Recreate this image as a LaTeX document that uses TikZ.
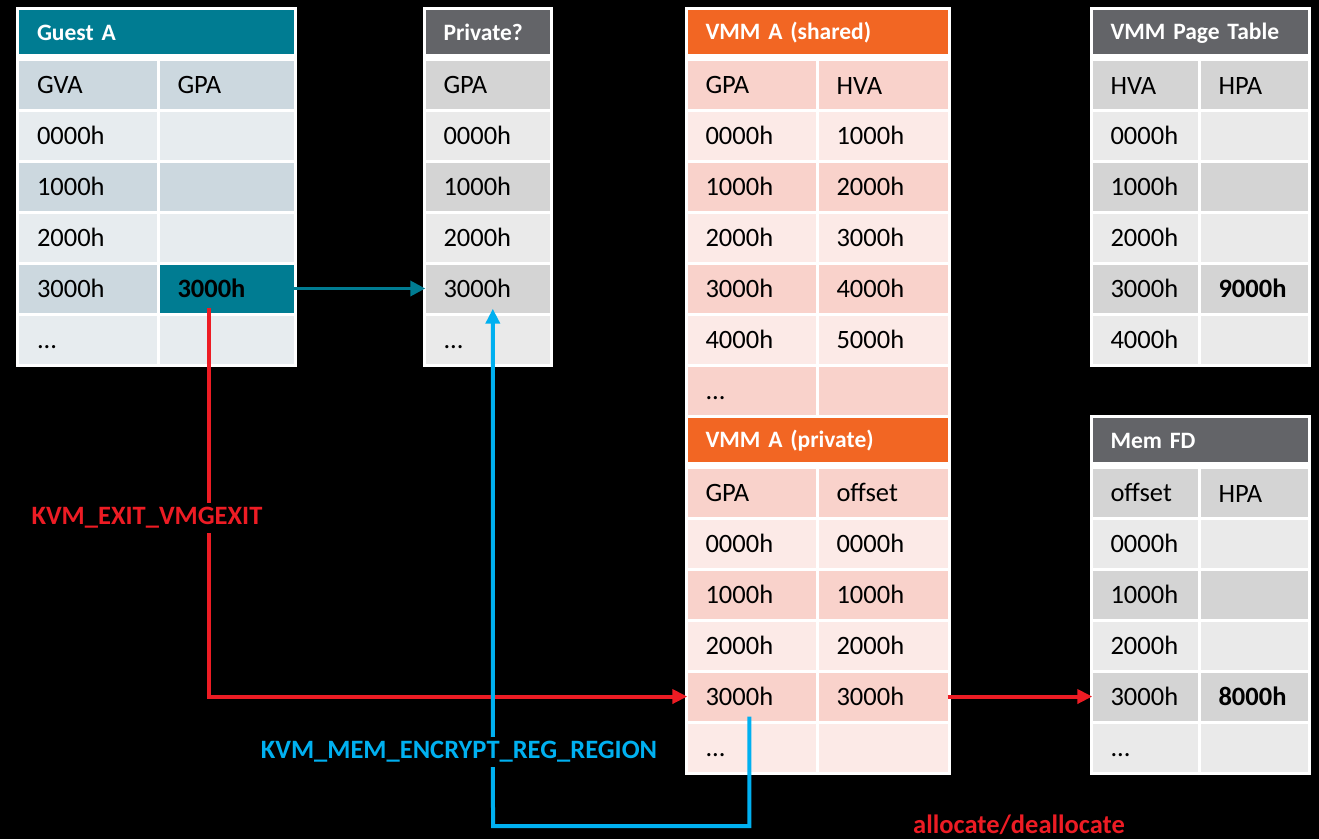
\documentclass[tikz,border=0pt]{standalone}
\usepackage{fontspec}
\setmainfont{Carlito}
\usetikzlibrary{arrows.meta}

\definecolor{guestteal}{RGB}{0,124,146}
\definecolor{guestdark}{RGB}{204,216,223}
\definecolor{guestlight}{RGB}{231,236,239}
\definecolor{hdrgrey}{RGB}{99,100,104}
\definecolor{greydark}{RGB}{212,212,212}
\definecolor{greylight}{RGB}{234,234,234}
\definecolor{vmmorange}{RGB}{242,102,35}
\definecolor{pinkdark}{RGB}{249,210,203}
\definecolor{pinklight}{RGB}{252,234,231}
\definecolor{exitred}{RGB}{237,28,36}
\definecolor{regblue}{RGB}{0,176,240}

\newcommand{\moredots}{...}

\begin{document}
\begin{tikzpicture}[
  x=1pt, y=-1pt,
  cell/.style={inner xsep=18pt, inner ysep=0pt, minimum height=48pt, align=left,
    font=\fontsize{26.5}{31}\selectfont, text=black,
    execute at begin node={\rule{0pt}{19pt}}},
  headcell/.style={cell, minimum height=44pt, text=white,
    font=\fontsize{23.5}{28}\selectfont\bfseries},
  tealarrow/.style={draw=guestteal, line width=3.5pt, -{Triangle[length=15pt,width=15pt]}},
  exitline/.style={draw=exitred, line width=4pt, -{Triangle[length=15pt,width=14pt]}},
  regline/.style={draw=regblue, line width=4pt, -{Triangle[length=15pt,width=14pt]}},
  lbl/.style={font=\fontsize{26.5}{31}\selectfont\bfseries, inner xsep=4pt, inner ysep=4pt},
  exitlbl/.style={lbl, text=exitred},
  reglbl/.style={lbl, text=regblue},
]
  \fill[black] (0,0) rectangle (1319,839);
  \useasboundingbox (0,0) rectangle (1319,839);

  % rows are 51 high, first one at y=8
  \newcommand{\backing}[4]{% #1 left, #2 right, #3 first row, #4 rows
    \fill[white] (#1-1.5,{8+#3*51-1.5}) rectangle (#2+1.5,{8+(#3+#4)*51+1.5});}
  \newcommand{\tabhead}[6]{% #1 name, #2 left, #3 right, #4 row, #5 fill, #6 text
    \pgfmathsetmacro\cw{#3-#2-3}\pgfmathsetmacro\tw{#3-#2-39}
    \node[headcell, fill=#5, minimum width=\cw pt, text width=\tw pt] (#1)
      at ({(#2+#3)/2},{8+#4*51+23.5}) {#6};}
  \newcommand{\tabcell}[6]{% #1 name, #2 left, #3 right, #4 row, #5 fill, #6 text
    \pgfmathsetmacro\cw{#3-#2-3}\pgfmathsetmacro\tw{#3-#2-39}
    \node[cell, fill=#5, minimum width=\cw pt, text width=\tw pt] (#1)
      at ({(#2+#3)/2},{8+(#4+0.5)*51}) {#6};}

  % Guest A
  \backing{17.5}{295}{0}{7}
  \tabhead{ga-0}{17.5}{295}{0}{guestteal}{Guest A}
  \foreach \a/\b [count=\k] in {GVA/GPA, 0000h/, 1000h/, 2000h/, 3000h/{\bfseries 3000h}, \moredots/}{
    \ifodd\k \def\rowfill{guestdark}\else \def\rowfill{guestlight}\fi
    \ifnum\k=5 \def\hitfill{guestteal}\else \let\hitfill\rowfill\fi
    \tabcell{ga-\k-1}{17.5}{158}{\k}{\rowfill}{\a}
    \tabcell{ga-\k-2}{158}{295}{\k}{\hitfill}{\b}
  }

  % Private?
  \backing{424}{551}{0}{7}
  \tabhead{pv-0}{424}{551}{0}{hdrgrey}{Private?}
  \foreach \a [count=\k] in {GPA, 0000h, 1000h, 2000h, 3000h, \moredots}{
    \ifodd\k \def\rowfill{greydark}\else \def\rowfill{greylight}\fi
    \tabcell{pv-\k-1}{424}{551}{\k}{\rowfill}{\a}
  }

  % VMM A, shared and private
  \backing{686}{949}{0}{15}
  \tabhead{vs-0}{686}{949}{0}{vmmorange}{VMM A (shared)}
  \foreach \a/\b [count=\k] in {GPA/HVA, 0000h/1000h, 1000h/2000h, 2000h/3000h, 3000h/4000h, 4000h/5000h, \moredots/}{
    \ifodd\k \def\rowfill{pinkdark}\else \def\rowfill{pinklight}\fi
    \tabcell{vs-\k-1}{686}{817}{\k}{\rowfill}{\a}
    \tabcell{vs-\k-2}{817}{949}{\k}{\rowfill}{\b}
  }
  \tabhead{vp-0}{686}{949}{8}{vmmorange}{VMM A (private)}
  \foreach \a/\b [count=\k] in {GPA/offset, 0000h/0000h, 1000h/1000h, 2000h/2000h, 3000h/3000h, \moredots/}{
    \ifodd\k \def\rowfill{pinkdark}\else \def\rowfill{pinklight}\fi
    \tabcell{vp-\k-1}{686}{817}{8+\k}{\rowfill}{\a}
    \tabcell{vp-\k-2}{817}{949}{8+\k}{\rowfill}{\b}
  }

  % VMM page table
  \backing{1091}{1309}{0}{7}
  \tabhead{pt-0}{1091}{1309}{0}{hdrgrey}{VMM Page Table}
  \foreach \a/\b [count=\k] in {HVA/HPA, 0000h/, 1000h/, 2000h/, 3000h/{\bfseries 9000h}, 4000h/}{
    \ifodd\k \def\rowfill{greydark}\else \def\rowfill{greylight}\fi
    \tabcell{pt-\k-1}{1091}{1199}{\k}{\rowfill}{\a}
    \tabcell{pt-\k-2}{1199}{1309}{\k}{\rowfill}{\b}
  }

  % Mem FD
  \backing{1091}{1309}{8}{7}
  \tabhead{fd-0}{1091}{1309}{8}{hdrgrey}{Mem FD}
  \foreach \a/\b [count=\k] in {offset/HPA, 0000h/, 1000h/, 2000h/, 3000h/{\bfseries 8000h}, \moredots/}{
    \ifodd\k \def\rowfill{greydark}\else \def\rowfill{greylight}\fi
    \tabcell{fd-\k-1}{1091}{1199}{8+\k}{\rowfill}{\a}
    \tabcell{fd-\k-2}{1199}{1309}{8+\k}{\rowfill}{\b}
  }

  % connectors
  \draw[tealarrow] (ga-5-2.east) -- (pv-5-1.west);
  \draw[exitline] ([xshift=50pt,yshift=5pt]ga-5-2.south west) |- (vp-5-1.west);
  \draw[exitline] (vp-5-2.east) -- (fd-5-1.west);
  \coordinate (regbase) at (493,826);
  \draw[regline] ([xshift=62pt,yshift=4pt]vp-5-1.south west) |- (regbase)
    -- ([xshift=67.5pt,yshift=4pt]pv-5-1.south west);

  % labels
  \node[exitlbl, fill=black] (vmgexit) at (147,518) {KVM\_EXIT\_VMGEXIT};
  \node[reglbl, fill=black] (encreg) at (459,752) {KVM\_MEM\_ENCRYPT\_REG\_REGION};
  \node[exitlbl, inner ysep=1pt] (allocdealloc) at (1019,825) {allocate/deallocate};
\end{tikzpicture}
\end{document}
